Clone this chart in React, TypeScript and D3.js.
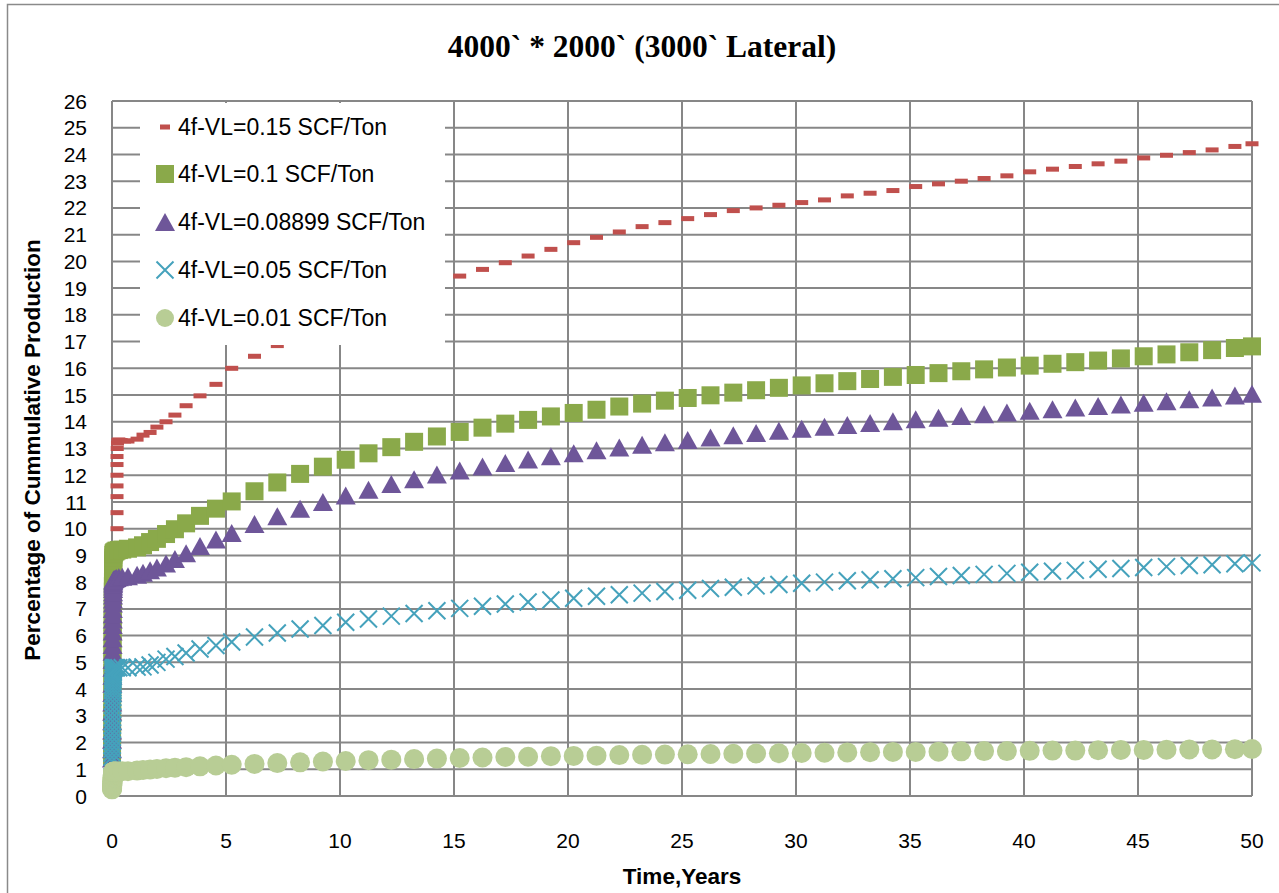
import React, { useEffect } from "react";
import * as d3 from "d3";

// ---------- DATA ----------
const yTicks = [0,1,2,3,4,5,6,7,8,9,10,11,12,13,14,15,16,17,18,19,20,21,22,23,24,25,26];
const xTicks = [0,5,10,15,20,25,30,35,40,45,50];

const seriesNames = [
  "4f-VL=0.15 SCF/Ton",
  "4f-VL=0.1 SCF/Ton",
  "4f-VL=0.08899 SCF/Ton",
  "4f-VL=0.05 SCF/Ton",
  "4f-VL=0.01 SCF/Ton",
];

// shared yearly output times (years)
const lateTimes = [5.25,6.25,7.25,8.25,9.25,10.25,11.25,12.25,13.25,14.25,15.25,16.25,17.25,18.25,19.25,20.25,21.25,22.25,23.25,24.25,25.25,26.25,27.25,28.25,29.25,30.25,31.25,32.25,33.25,34.25,35.25,36.25,37.25,38.25,39.25,40.25,41.25,42.25,43.25,44.25,45.25,46.25,47.25,48.25,49.25,50];

// early dense output times (years)
const earlyTimes = [0,0.002,0.004,0.006,0.008,0.01,0.012,0.014,0.016,0.018,0.02,0.022,0.024,0.026,0.028,0.03,0.032,0.034,0.036,0.038,0.04,0.042,0.044,0.046,0.048,0.05,0.052,0.054,0.056,0.058,0.07,0.1,0.15,0.2,0.3,0.45,0.7,1.1,1.36,1.67,1.97,2.37,2.76,3.25,3.86,4.56];
const redEarlyTimes = [0.08,0.08,0.08,0.08,0.08,0.08,0.22,0.22,0.22,0.22,0.22,0.22,0.22,0.23,0.24,0.26,0.3,0.4,0.55,0.7,1.1,1.36,1.67,1.97,2.37,2.76,3.25,3.86,4.56];

const vl015Early = [3.0,5.0,6.5,7.6,8.5,9.2,10.0,10.6,11.2,11.6,12.0,12.4,12.7,13.0,13.2,13.3,13.32,13.3,13.28,13.28,13.35,13.5,13.6,13.8,14.0,14.25,14.6,14.97,15.4];
const vl015Late = [16.0,16.45,16.85,17.25,17.6,17.95,18.25,18.55,18.85,19.15,19.45,19.7,19.95,20.2,20.45,20.7,20.9,21.1,21.3,21.45,21.6,21.75,21.9,22.0,22.1,22.2,22.3,22.45,22.55,22.65,22.8,22.9,23.0,23.1,23.2,23.35,23.45,23.55,23.65,23.75,23.87,23.97,24.07,24.17,24.3,24.4];

const vl01Early = [1.5,1.9,2.3,2.7,3.1,3.5,3.9,4.25,4.6,4.95,5.3,5.6,5.9,6.2,6.5,6.75,7.0,7.25,7.45,7.65,7.85,8.0,8.15,8.3,8.45,8.58,8.7,8.82,8.92,9.02,9.08,9.12,9.15,9.18,9.2,9.22,9.25,9.3,9.38,9.5,9.62,9.8,9.98,10.2,10.48,10.75];
const vl01Late = [11.02,11.4,11.73,12.05,12.32,12.58,12.82,13.05,13.25,13.45,13.62,13.78,13.93,14.07,14.2,14.33,14.45,14.57,14.68,14.79,14.89,14.99,15.09,15.18,15.27,15.36,15.44,15.52,15.6,15.68,15.75,15.82,15.89,15.96,16.03,16.1,16.17,16.23,16.29,16.37,16.45,16.52,16.6,16.68,16.76,16.82];

const vl008899Early = [1.4,1.75,2.1,2.45,2.8,3.15,3.5,3.85,4.2,4.5,4.8,5.1,5.4,5.65,5.9,6.15,6.4,6.6,6.8,7.0,7.2,7.35,7.5,7.62,7.74,7.84,7.92,7.98,8.03,8.07,8.1,8.12,8.14,8.16,8.18,8.2,8.22,8.28,8.35,8.45,8.55,8.7,8.87,9.08,9.35,9.6];
const vl008899Late = [9.84,10.18,10.47,10.75,11.0,11.24,11.46,11.67,11.85,12.03,12.18,12.33,12.46,12.59,12.71,12.82,12.93,13.04,13.14,13.23,13.32,13.41,13.5,13.58,13.66,13.74,13.81,13.88,13.95,14.02,14.09,14.15,14.22,14.28,14.35,14.41,14.47,14.53,14.59,14.65,14.71,14.77,14.84,14.91,14.98,15.05];

const vl005Early = [1.3,1.45,1.6,1.75,1.9,2.05,2.2,2.35,2.5,2.65,2.8,2.95,3.1,3.25,3.4,3.55,3.7,3.82,3.94,4.05,4.16,4.26,4.36,4.45,4.53,4.6,4.66,4.71,4.75,4.78,4.8,4.8,4.8,4.8,4.8,4.8,4.8,4.82,4.83,4.9,5.0,5.12,5.22,5.35,5.5,5.63];
const vl005Late = [5.76,5.95,6.1,6.25,6.38,6.5,6.62,6.73,6.83,6.93,7.02,7.1,7.18,7.26,7.33,7.4,7.47,7.53,7.59,7.65,7.7,7.76,7.81,7.86,7.91,7.96,8.0,8.05,8.09,8.13,8.17,8.21,8.25,8.29,8.33,8.37,8.41,8.44,8.48,8.51,8.55,8.58,8.62,8.65,8.69,8.72];

const vl001Early = [0.25,0.28,0.31,0.34,0.37,0.4,0.43,0.46,0.49,0.52,0.55,0.58,0.61,0.64,0.67,0.7,0.73,0.75,0.77,0.79,0.81,0.83,0.85,0.86,0.87,0.88,0.89,0.9,0.9,0.91,0.92,0.92,0.92,0.92,0.92,0.93,0.93,0.95,0.97,0.99,1.01,1.04,1.06,1.08,1.11,1.14];
const vl001Late = [1.17,1.2,1.23,1.26,1.29,1.31,1.34,1.36,1.38,1.4,1.42,1.44,1.46,1.47,1.49,1.5,1.51,1.53,1.54,1.55,1.56,1.57,1.58,1.59,1.6,1.61,1.62,1.63,1.64,1.65,1.65,1.66,1.67,1.68,1.68,1.69,1.7,1.7,1.71,1.72,1.72,1.73,1.74,1.74,1.75,1.76];

// ---------- LAYOUT ----------
const W = 1279, H = 893;
const plot = { left: 112, right: 1252, top: 101, bottom: 796 };
const colors = ["#C0504D", "#8AA94A", "#6E5699", "#45A2BC", "#B8CD95"];
const gridColor = "#878787";
const sansFont = "'Liberation Sans', Arial, sans-serif";

type Kind = "dash" | "square" | "triangle" | "x" | "circle";
const kinds: Kind[] = ["dash", "square", "triangle", "x", "circle"];

function zip(t: number[], v: number[]) {
  return v.map((val, i) => ({ t: t[i], v: val }));
}

const seriesData = [
  [...zip(redEarlyTimes, vl015Early), ...zip(lateTimes, vl015Late)],
  [...zip(earlyTimes, vl01Early), ...zip(lateTimes, vl01Late)],
  [...zip(earlyTimes, vl008899Early), ...zip(lateTimes, vl008899Late)],
  [...zip(earlyTimes, vl005Early), ...zip(lateTimes, vl005Late)],
  [...zip(earlyTimes, vl001Early), ...zip(lateTimes, vl001Late)],
];

function Marker({ kind, cx, cy, color, legend = false }: { kind: Kind; cx: number; cy: number; color: string; legend?: boolean }) {
  switch (kind) {
    case "dash": {
      const w = legend ? 10 : 13, h = 5;
      return <rect x={cx - w / 2} y={cy - h / 2} width={w} height={h} fill={color} />;
    }
    case "square": {
      const s = 18;
      return <rect x={cx - s / 2} y={cy - s / 2} width={s} height={s} fill={color} />;
    }
    case "triangle": {
      const w = 20, h = 18;
      return <path d={`M${cx},${cy - h / 2}L${cx + w / 2},${cy + h / 2}L${cx - w / 2},${cy + h / 2}Z`} fill={color} />;
    }
    case "x": {
      const s = 8.5;
      return <path d={`M${cx - s},${cy - s}L${cx + s},${cy + s}M${cx - s},${cy + s}L${cx + s},${cy - s}`} stroke={color} strokeWidth={2} fill="none" />;
    }
    case "circle":
      return <circle cx={cx} cy={cy} r={legend ? 9 : 10} fill={color} />;
  }
}

export default function App() {
  useEffect(() => {
    document.body.style.margin = "0";
    document.body.style.overflow = "hidden";
  }, []);

  const x = d3.scaleLinear().domain([0, 50]).range([plot.left, plot.right]);
  const y = d3.scaleLinear().domain([0, 26]).range([plot.bottom, plot.top]);

  const legendRows = [127, 174, 222, 270, 318];

  return (
    <svg width={W} height={H} style={{ position: "absolute", left: 0, top: 0, display: "block", background: "#fff" }}>
      {/* outer frame */}
      <path d={`M7.5,${H + 2}V4.5H${W + 2}`} stroke="#8a8a8a" strokeWidth={1.5} fill="none" />

      {/* title */}
      <text x={642} y={57} textAnchor="middle" fontFamily="'Liberation Serif', 'Times New Roman', serif" fontWeight="bold" fontSize={31.5}>
        4000` * 2000` (3000` Lateral)
      </text>

      {/* grid */}
      <g stroke={gridColor} strokeWidth={2}>
        {yTicks.map((t) => (
          <line key={"h" + t} x1={plot.left} x2={plot.right} y1={y(t)} y2={y(t)} />
        ))}
        {xTicks.map((t) => (
          <line key={"v" + t} x1={x(t)} x2={x(t)} y1={plot.top} y2={plot.bottom} />
        ))}
      </g>

      {/* tick labels */}
      <g fontFamily={sansFont} fontSize={21} fill="#000">
        {yTicks.map((t) => (
          <text key={"yl" + t} x={87} y={y(t)} dy="0.36em" textAnchor="end">{t}</text>
        ))}
        {xTicks.map((t) => (
          <text key={"xl" + t} x={x(t)} y={848} textAnchor="middle">{t}</text>
        ))}
      </g>

      {/* axis titles */}
      <text x={682} y={884} textAnchor="middle" fontFamily={sansFont} fontWeight="bold" fontSize={22.5}>Time,Years</text>
      <text transform="translate(40,450) rotate(-90)" textAnchor="middle" fontFamily={sansFont} fontWeight="bold" fontSize={22.5}>Percentage of Cummulative Production</text>

      {/* series */}
      {seriesData.map((pts, si) => (
        <g key={"s" + si}>
          {pts.map((p, i) => (
            <Marker key={i} kind={kinds[si]} cx={x(p.t)} cy={y(p.v)} color={colors[si]} />
          ))}
        </g>
      ))}

      {/* legend */}
      <rect x={140} y={103} width={305} height={242} fill="#fff" />
      {seriesNames.map((name, i) => (
        <g key={"lg" + i}>
          <Marker kind={kinds[i]} cx={165} cy={legendRows[i]} color={colors[i]} legend />
          <text x={178} y={legendRows[i]} dy="0.36em" fontFamily={sansFont} fontSize={23}>{name}</text>
        </g>
      ))}
    </svg>
  );
}
